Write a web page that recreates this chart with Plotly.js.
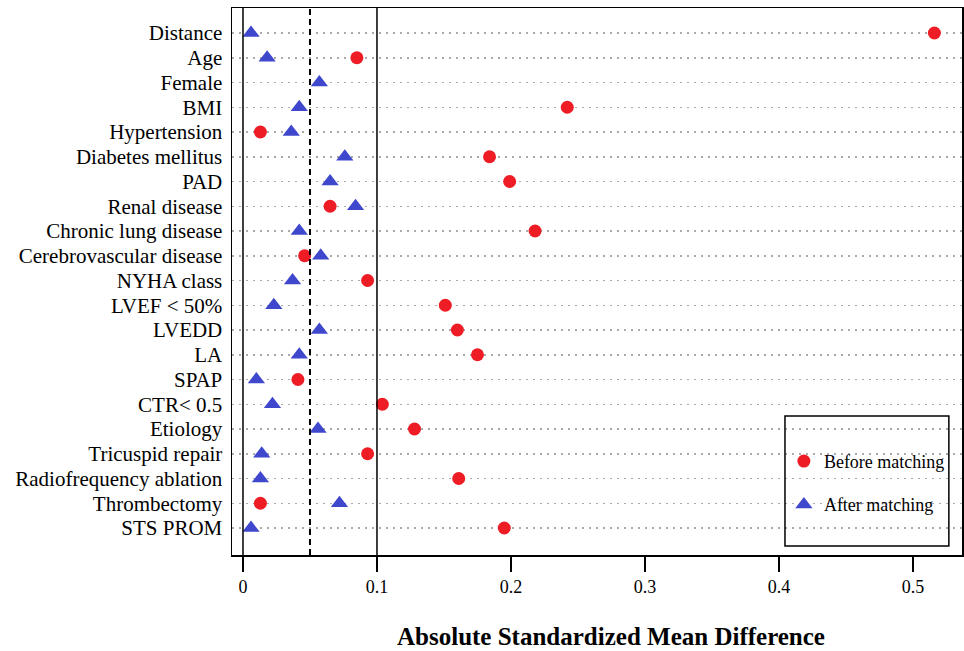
<!DOCTYPE html>
<html>
<head>
<meta charset="utf-8">
<script src="https://cdn.plot.ly/plotly-3.0.1.min.js"></script>
<style>html,body{margin:0;padding:0;background:#fff;}#chart{width:964px;height:651px;}</style>
</head>
<body>
<div id="chart"></div>
<script>
const covariates = ["Distance","Age","Female","BMI","Hypertension","Diabetes mellitus","PAD","Renal disease","Chronic lung disease","Cerebrovascular disease","NYHA class","LVEF < 50%","LVEDD","LA","SPAP","CTR< 0.5","Etiology","Tricuspid repair","Radiofrequency ablation","Thrombectomy","STS PROM"];
const beforeMatching = [0.516,0.085,null,0.242,0.013,0.184,0.199,0.065,0.218,0.046,0.093,0.151,0.160,0.175,0.041,0.104,0.128,0.093,0.161,0.013,0.195];
const afterMatching  = [0.006,0.018,0.057,0.042,0.036,0.076,0.065,0.084,0.042,0.058,0.037,0.023,0.057,0.042,0.010,0.022,0.056,0.014,0.013,0.072,0.006];
const xTicks = [0,0.1,0.2,0.3,0.4,0.5];
const xTickLabels = ["0","0.1","0.2","0.3","0.4","0.5"];
const refLines = [0,0.05,0.1];

const serif = "Liberation Serif";
const traces = [
  {type:"scatter",mode:"markers",name:"Before matching",x:beforeMatching,y:covariates,
   marker:{symbol:"circle",size:13,color:"#ee1c25"},legendgroup:"a"},
  {type:"scatter",mode:"markers",name:"After matching",x:afterMatching,y:covariates,
   marker:{symbol:"triangle-up",size:15,color:"#3f48cc"},legendgroup:"b"}
];
const shapes = refLines.map((v,i)=>({type:"line",xref:"x",yref:"paper",x0:v,x1:v,y0:0,y1:1,
  line:{color:"#000",width:i===1?2:1.5,dash:i===1?"6px,4px":"solid"}}));
shapes.push({type:"rect",xref:"paper",yref:"paper",x0:0.7575,x1:0.982,y0:0.0165,y1:0.254,
  line:{color:"#000",width:1.5},fillcolor:"rgba(0,0,0,0)"});
const layout = {
  width:964,height:651,
  margin:{l:232,r:2,t:8,b:96},
  paper_bgcolor:"#fff",plot_bgcolor:"#fff",
  font:{family:serif,color:"#000"},
  showlegend:true,
  legend:{x:0.756,y:0.205,xanchor:"left",yanchor:"top",bgcolor:"rgba(0,0,0,0)",
    font:{family:serif,size:18,color:"#000"},traceorder:"grouped",tracegroupgap:17},
  xaxis:{range:[-0.0082,0.5366],tickmode:"array",tickvals:xTicks,ticktext:xTickLabels,ticks:"outside",ticklen:15,
    tickwidth:1.5,tickcolor:"#000",showgrid:false,zeroline:false,showline:true,linecolor:"#000",
    linewidth:1.5,mirror:true,tickfont:{family:serif,size:18,color:"#000"}},
  yaxis:{type:"category",categoryorder:"array",categoryarray:covariates,range:[21.09,-1.01],
    tickmode:"array",tickvals:covariates,ticktext:covariates,
    showgrid:true,gridcolor:"#aaaaaa",gridwidth:1.5,griddash:"2px,5px",ticks:"",ticklabelstandoff:4,
    showline:true,linecolor:"#000",linewidth:1.5,mirror:true,zeroline:false,
    tickfont:{family:serif,size:21,color:"#000"}},
  shapes:shapes,
  annotations:[{text:"<b>Absolute Standardized Mean Difference</b>",xref:"paper",yref:"paper",
    x:(611-232)/730,y:(555-636)/547,xanchor:"center",yanchor:"middle",showarrow:false,
    font:{family:serif,size:25,color:"#000"}}]
};
Plotly.newPlot("chart",traces,layout,{displayModeBar:false,staticPlot:true});
</script>
</body>
</html>
